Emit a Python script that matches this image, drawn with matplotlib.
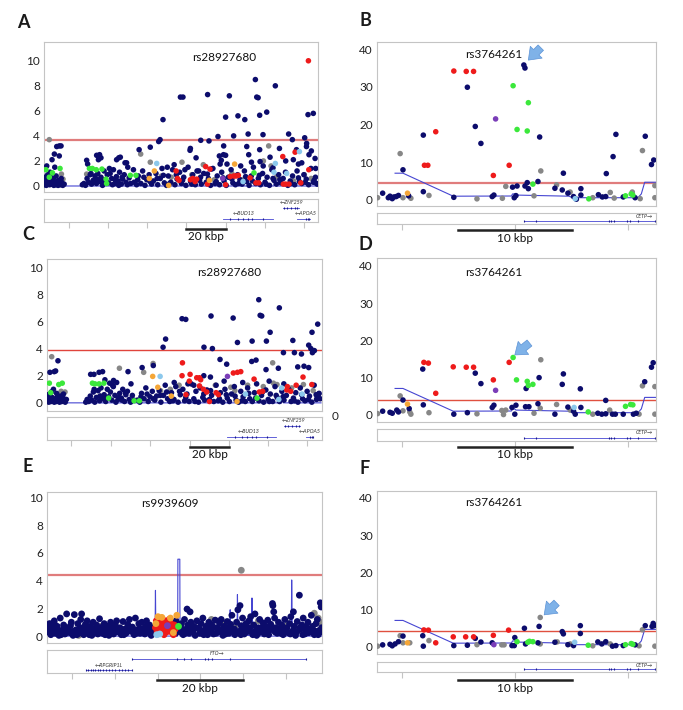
import matplotlib
matplotlib.use("Agg")
import matplotlib.pyplot as plt
from matplotlib import transforms

plt.rcParams['font.family'] = ['Lato', 'DejaVu Sans']

# colours (LD classes)
NAVY = '#0c0c6c'
GRAY = '#878787'
RED = '#ee1b1b'
GREEN = '#3be83b'
ORANGE = '#f5a637'
LBLUE = '#8cc8ec'
PURPLE = '#7a3db8'
RECOMB = '#4646d2'
FRAME = '#c4c4c4'

W, H = 683, 710

# ---------------- panel A (rs28927680, 140 kb window) ----------------
a_navy = [(108.0, 8.5), (118.2, 8.0), (69.7, 7.1), (71.0, 7.1), (83.6, 7.3), (94.7, 7.2), (108.7, 7.1),
          (109.4, 7.05), (60.8, 5.3), (92.8, 5.5), (99.1, 5.6), (102.6, 5.3), (110.2, 5.65), (113.8, 5.9),
          (134.9, 5.7), (137.6, 5.8), (88.9, 3.95), (96.9, 4.0), (104.3, 4.15), (111.9, 4.1), (125.0, 4.15),
          (133.2, 3.85), (58.6, 3.55), (59.3, 3.7), (80.1, 3.65), (84.3, 3.6), (126.9, 3.7), (134.2, 3.4),
          (134.1, 3.15), (6.5, 3.15), (7.8, 3.2), (8.7, 3.2), (5.3, 2.55), (4.1, 2.1), (7.8, 2.4), (1.4, 1.6),
          (21.8, 2.05), (22.3, 1.75), (26.9, 2.45), (28.4, 2.5), (27.8, 2.1), (29.1, 2.25), (37.1, 2.1),
          (38.2, 2.25), (39.0, 2.3), (41.4, 1.85), (42.2, 1.85), (48.6, 2.9), (54.3, 3.1), (45.7, 1.3),
          (74.6, 2.85), (74.8, 3.0), (77.7, 2.25), (89.6, 2.4), (90.6, 2.05), (91.8, 3.2), (91.7, 2.5),
          (92.8, 2.45), (93.5, 1.75), (90.0, 1.75), (103.6, 3.15), (104.6, 2.5), (110.4, 1.95), (110.2, 2.9),
          (120.3, 3.0), (127.4, 2.1), (130.0, 1.75), (131.7, 1.85), (136.6, 2.8), (135.4, 2.5), (138.5, 2.2),
          (138.8, 1.4), (139.3, 0.2), (85.5, 1.35), (63.0, 1.5), (66.5, 1.7), (72.0, 1.3), (79.0, 1.2),
          (100.5, 1.6), (106.0, 1.9), (115.5, 2.3), (123.5, 2.0), (129.0, 2.9), (112.0, 1.6), (117.0, 1.45)]
a_low = [(0.2, 0.1), (0.7, 0.3), (1.2, 0.05), (1.8, 0.4), (2.3, 0.2), (2.9, 0.1), (3.4, 0.5), (3.9, 0.15),
         (4.5, 0.3), (5.0, 0.05), (5.6, 0.25), (6.1, 0.1), (6.7, 0.35), (7.2, 0.05), (7.8, 0.2), (8.4, 0.1),
         (9.0, 0.3), (9.6, 0.05), (10.3, 0.15), (0.5, 0.7), (1.9, 0.9), (3.1, 1.1), (4.8, 0.6), (6.2, 0.8),
         (7.4, 0.45), (8.8, 0.6), (5.5, 1.5), (3.6, 1.0),
         (19.6, 0.1), (20.4, 0.2), (21.2, 0.05), (22.0, 0.6), (22.8, 0.3), (23.6, 0.9), (24.3, 0.15),
         (25.1, 0.45), (26.0, 0.8), (26.8, 0.2), (27.5, 1.0), (28.3, 0.35), (29.1, 0.7), (29.9, 0.05),
         (30.7, 1.2), (31.4, 0.5), (32.3, 0.9), (33.0, 0.25), (33.8, 1.0), (34.6, 0.6), (35.5, 1.3),
         (36.2, 0.2), (37.0, 0.75), (37.9, 0.4), (38.6, 1.1), (39.5, 0.15), (40.2, 0.55), (41.0, 0.9),
         (41.9, 0.3), (42.6, 0.1), (43.5, 0.65), (44.3, 0.2), (24.0, 1.0), (27.0, 0.55), (30.2, 0.35),
         (33.4, 1.4), (36.6, 0.45), (39.9, 0.7), (42.8, 1.5), (35.0, 0.1), (38.2, 0.05),
         (46.1, 0.3), (47.3, 0.1), (48.2, 0.8), (49.5, 0.2), (50.4, 1.2), (51.6, 0.05), (52.5, 0.5),
         (53.7, 0.9), (55.0, 0.15), (55.9, 0.4), (57.2, 1.0), (58.1, 0.1), (59.4, 0.6), (60.3, 1.4),
         (61.5, 0.25), (62.6, 0.05), (63.5, 0.8), (64.8, 0.3), (65.7, 1.3), (66.9, 0.1), (68.0, 0.55),
         (69.3, 1.1), (70.2, 0.2), (71.4, 0.7), (72.5, 0.05), (73.6, 1.5), (74.9, 0.35), (76.0, 0.9),
         (77.3, 0.1), (78.2, 1.2), (79.5, 0.45), (80.4, 0.15), (81.6, 1.0), (82.9, 0.3), (84.0, 0.6),
         (85.1, 0.05), (86.3, 1.4), (87.4, 0.2), (88.5, 0.8), (89.7, 0.1), (90.8, 1.1), (92.0, 0.4),
         (93.1, 0.05), (94.2, 0.7), (95.6, 1.3), (96.5, 0.25), (97.8, 0.1), (98.9, 0.9), (100.1, 0.5),
         (101.2, 0.15), (102.4, 1.2), (103.5, 0.35), (104.8, 0.05), (105.9, 0.8), (107.0, 1.5),
         (108.2, 0.2), (109.5, 0.6), (110.6, 0.1), (111.7, 1.0), (112.9, 0.3), (114.0, 0.7), (115.2, 0.05),
         (116.4, 1.3), (117.5, 0.45), (118.7, 0.15), (119.9, 0.9), (121.0, 0.25), (122.2, 0.6),
         (123.4, 1.1), (124.6, 0.05), (125.8, 0.4), (127.0, 0.8), (128.1, 0.1), (129.3, 1.2), (130.5, 0.35),
         (131.7, 0.2), (132.8, 0.9), (134.0, 0.55), (135.2, 0.1), (136.4, 1.4), (137.6, 0.3), (138.7, 0.7),
         (139.6, 0.15), (47.9, 0.5), (51.0, 0.7), (54.2, 0.35), (57.8, 0.6), (61.0, 0.85), (64.2, 0.2),
         (67.6, 0.9), (70.8, 0.45), (75.5, 0.15), (80.0, 0.7), (83.5, 0.95), (88.0, 0.35), (91.5, 0.65),
         (96.0, 0.55), (99.5, 0.2), (103.0, 0.75), (106.5, 0.4), (110.0, 0.85), (113.5, 0.15), (117.0, 0.6),
         (120.5, 0.5), (126.3, 0.2), (130.0, 0.65), (133.5, 0.3), (138.0, 0.45)]
a_gray = [(2.7, 3.7), (8.9, 0.95), (9.7, 0.55), (21.8, 0.95), (49.4, 2.55), (54.3, 1.9), (70.5, 1.9),
          (81.4, 1.7), (112.1, 2.0), (114.8, 3.2), (116.0, 1.6), (30.5, 0.5), (60.0, 0.8), (75.5, 0.9),
          (96.0, 1.0), (101.0, 0.5), (119.0, 0.75), (127.5, 0.4), (133.0, 0.9), (136.5, 0.6), (65.0, 0.7),
          (87.0, 0.5)]
a_red = [(135.1, 10.0), (67.5, 1.2), (69.0, 0.45), (82.6, 1.55), (84.8, 1.35), (74.8, 0.5), (77.2, 0.35),
         (78.0, 0.55), (83.5, 0.15), (95.1, 0.75), (97.0, 0.8), (98.1, 0.8), (99.3, 0.85), (92.8, 0.1),
         (105.3, 0.65), (108.3, 0.25), (109.7, 0.25), (122.0, 2.35), (122.3, 0.15), (123.5, 0.15),
         (125.2, 0.15), (128.3, 2.7), (135.3, 1.3), (131.2, 0.25), (68.2, 0.6), (76.0, 0.6)]
a_green = [(8.2, 1.4), (1.0, 1.3), (2.7, 0.7), (4.3, 1.05), (23.2, 1.4), (24.7, 1.4), (26.7, 1.3),
           (29.6, 1.35), (31.7, 0.55), (32.0, 0.2), (44.1, 0.85), (47.0, 0.85), (107.3, 1.05)]
a_orange = [(56.4, 1.2), (53.8, 0.6), (63.7, 0.05), (97.4, 1.75), (84.5, 0.45)]
a_lblue = [(57.6, 1.8), (101.7, 0.35), (118.2, 1.8), (124.0, 1.0), (130.5, 2.75), (117.5, 1.1)]
a_purple = [(91.3, 0.6)]
a_recomb = [(0, 0), (117.5, 0), (118.2, 0.9), (118.6, 0), (140, 0)]

# ---------------- panel C (rs28927680, second analysis) ----------------
c_navy = [(108.2, 7.6), (118.7, 7.0), (108.9, 6.45), (109.7, 6.4), (69.0, 6.2), (70.9, 6.15), (83.8, 6.4),
          (95.1, 6.25), (114.0, 5.2), (138.3, 5.8), (135.4, 5.2), (60.6, 4.7), (59.3, 4.1), (97.3, 4.45),
          (104.8, 4.55), (112.1, 4.55), (125.6, 4.6), (80.2, 4.1), (84.5, 4.0), (120.8, 3.7), (126.4, 3.7),
          (130.0, 3.6), (133.7, 4.25), (134.8, 4.0), (135.6, 3.7), (136.6, 3.85), (5.6, 3.1), (3.7, 2.3),
          (4.4, 2.35), (1.5, 2.25), (22.3, 2.1), (24.0, 2.1), (26.6, 2.25), (28.4, 2.3), (29.6, 1.7),
          (41.4, 2.3), (48.6, 2.6), (54.3, 2.75), (80.1, 2.0), (83.5, 1.9), (88.4, 3.2), (91.8, 2.85),
          (90.5, 1.6), (104.6, 3.05), (106.8, 3.15), (111.9, 2.45), (118.2, 2.55), (128.1, 2.65),
          (131.3, 2.7), (133.7, 2.6), (65.0, 1.5), (72.0, 1.4), (75.0, 1.3), (100.0, 1.5), (113.5, 1.6),
          (121.0, 1.4), (137.5, 0.6), (139.6, 0.3), (139.0, 0.7)]
c_low = [(0.3, 0.2), (0.9, 0.05), (1.4, 0.35), (2.0, 0.1), (2.6, 0.4), (3.1, 0.15), (3.7, 0.05), (4.2, 0.3),
         (4.8, 0.1), (5.3, 0.45), (5.9, 0.2), (6.4, 0.05), (7.0, 0.3), (7.5, 0.1), (8.1, 0.4), (8.7, 0.15),
         (9.3, 0.05), (9.9, 0.25), (0.6, 0.6), (2.2, 0.8), (3.3, 1.0), (4.9, 0.7), (6.6, 0.5), (8.4, 0.65),
         (19.8, 0.05), (20.5, 0.25), (21.3, 0.1), (22.1, 0.5), (22.9, 0.2), (23.7, 0.8), (24.4, 0.05),
         (25.2, 0.4), (26.1, 0.9), (26.9, 0.15), (27.6, 1.1), (28.4, 0.3), (29.2, 0.6), (30.0, 0.1),
         (30.8, 1.0), (31.5, 0.45), (32.4, 0.8), (33.1, 0.2), (33.9, 1.2), (34.7, 0.55), (35.6, 1.5),
         (36.3, 0.25), (37.1, 0.7), (38.0, 0.35), (38.7, 1.0), (39.6, 0.1), (40.3, 0.6), (41.1, 0.85),
         (42.0, 0.25), (42.7, 0.05), (43.6, 0.55), (44.4, 0.2), (24.1, 1.0), (27.2, 0.5), (30.3, 0.3),
         (33.5, 1.3), (36.7, 0.4), (40.0, 0.75), (42.9, 1.4), (35.2, 0.05), (38.3, 0.2), (32.0, 1.45),
         (34.0, 1.65),
         (46.2, 0.2), (47.4, 0.05), (48.3, 0.7), (49.6, 0.3), (50.5, 1.1), (51.7, 0.1), (52.6, 0.45),
         (53.8, 0.85), (55.1, 0.2), (56.0, 0.5), (57.3, 0.9), (58.2, 0.05), (59.5, 0.55), (60.4, 1.3),
         (61.6, 0.3), (62.7, 0.1), (63.6, 0.75), (64.9, 0.25), (65.8, 1.2), (67.0, 0.05), (68.1, 0.6),
         (69.4, 1.0), (70.3, 0.15), (71.5, 0.65), (72.6, 0.1), (73.7, 1.4), (75.0, 0.3), (76.1, 0.85),
         (77.4, 0.05), (78.3, 1.1), (79.6, 0.4), (80.5, 0.2), (81.7, 0.95), (83.0, 0.25), (84.1, 0.55),
         (85.2, 0.1), (86.4, 1.3), (87.5, 0.15), (88.6, 0.75), (89.8, 0.05), (90.9, 1.0), (92.1, 0.35),
         (93.2, 0.1), (94.3, 0.65), (95.7, 1.2), (96.6, 0.2), (97.9, 0.05), (99.0, 0.85), (100.2, 0.45),
         (101.3, 0.1), (102.5, 1.1), (103.6, 0.3), (104.9, 0.1), (106.0, 0.75), (107.1, 1.4), (108.3, 0.15),
         (109.6, 0.55), (110.7, 0.05), (111.8, 0.95), (113.0, 0.25), (114.1, 0.65), (115.3, 0.1),
         (116.5, 1.2), (117.6, 0.4), (118.8, 0.1), (120.0, 0.85), (121.1, 0.2), (122.3, 0.55), (123.5, 1.0),
         (124.7, 0.1), (125.9, 0.35), (127.1, 0.75), (128.2, 0.05), (129.4, 1.1), (130.6, 0.3),
         (131.8, 0.15), (132.9, 0.85), (134.1, 0.5), (135.3, 0.05), (136.5, 1.3), (137.7, 0.25),
         (138.8, 0.65), (48.0, 0.45), (51.1, 0.65), (54.3, 0.3), (57.9, 0.55), (61.1, 0.8), (64.3, 0.15),
         (67.7, 0.85), (70.9, 0.4), (75.6, 0.1), (80.1, 0.65), (83.6, 0.9), (88.1, 0.3), (91.6, 0.6),
         (96.1, 0.5), (99.6, 0.15), (103.1, 0.7), (106.6, 0.35), (110.1, 0.8), (113.6, 0.1), (117.1, 0.55),
         (120.6, 0.45), (126.4, 0.15), (130.1, 0.6), (133.6, 0.25), (138.1, 0.4)]
c_gray = [(2.4, 3.4), (7.2, 0.85), (9.2, 0.8), (37.0, 2.55), (49.4, 2.25), (54.2, 2.9), (93.9, 1.15),
          (115.3, 2.95), (115.7, 1.45), (117.5, 1.35), (125.0, 1.1), (27.0, 0.5), (58.0, 0.9), (63.0, 1.0),
          (67.5, 1.3), (86.0, 1.3), (96.0, 0.9), (102.5, 1.3), (110.5, 1.2), (131.0, 1.35), (136.0, 0.9)]
c_red = [(69.2, 2.95), (69.0, 2.0), (73.1, 2.1), (76.5, 1.85), (77.9, 1.85), (78.5, 1.7), (72.7, 1.6),
         (77.9, 1.25), (79.9, 1.0), (81.6, 0.8), (86.4, 0.75), (87.6, 0.6), (83.0, 0.1), (95.2, 2.2),
         (97.3, 2.25), (99.0, 2.3), (105.8, 1.75), (110.2, 0.85), (108.5, 0.8), (122.5, 0.95), (124.5, 0.85),
         (122.8, 1.2), (127.3, 1.3), (130.8, 1.9), (135.3, 1.35), (71.0, 0.6)]
c_green = [(1.2, 1.45), (7.8, 1.45), (6.0, 1.35), (1.9, 0.75), (23.2, 1.45), (24.5, 1.4), (26.6, 1.4),
           (29.1, 1.45), (31.5, 0.35), (44.5, 0.15), (47.2, 0.15), (107.3, 0.35)]
c_orange = [(54.0, 1.95), (56.6, 1.15), (63.5, 0.5), (97.1, 0.1)]
c_lblue = [(57.8, 1.95), (101.4, 0.65), (119.9, 1.1), (118.4, 0.25), (130.3, 0.65)]
c_purple = [(92.2, 1.95)]
c_recomb = [(0, 0), (119.8, 0), (120.4, 1.1), (120.8, 0), (140, 0)]

# ---------------- panel E (rs9939609, FTO) ----------------
e_navy = [(0.2, 0.3), (0.6, 0.9), (0.9, 0.1), (1.3, 0.5), (1.7, 1.1), (2.0, 0.2), (2.4, 0.7), (2.8, 0.05),
          (3.1, 1.3), (3.5, 0.4), (3.9, 0.8), (4.2, 0.15), (4.6, 1.6), (5.0, 0.6), (5.3, 0.25), (5.7, 1.0),
          (6.1, 0.05), (6.4, 1.55), (6.8, 0.45), (7.2, 0.9), (7.5, 0.2), (7.9, 1.2), (8.1, 1.6), (8.3, 0.6),
          (8.6, 0.1), (9.0, 0.85), (9.4, 1.1), (9.7, 0.3), (10.1, 0.7), (10.5, 0.05), (10.8, 1.0), (11.2, 0.4),
          (11.6, 0.8), (11.9, 0.15), (12.3, 1.25), (12.7, 0.55), (13.0, 0.2), (13.4, 0.9), (13.8, 0.35),
          (14.1, 0.7), (14.5, 0.05), (14.9, 1.0), (15.2, 0.45), (15.6, 0.15), (16.0, 0.8), (16.3, 1.1),
          (16.7, 0.3), (17.1, 0.6), (17.4, 0.1), (17.8, 1.05), (18.2, 0.5), (18.5, 0.2), (18.9, 0.85),
          (19.3, 1.2), (19.6, 0.35), (20.0, 0.65), (20.4, 0.1), (20.7, 1.3), (21.1, 0.45), (21.5, 0.9),
          (21.8, 0.2), (22.2, 1.0), (22.6, 0.55), (22.9, 0.15), (23.3, 1.1), (23.7, 0.4), (24.0, 0.8),
          (24.4, 0.05), (24.8, 0.6),
          (0.4, 0.6), (1.1, 0.3), (1.9, 0.8), (2.6, 0.45), (3.3, 0.1), (4.0, 0.55), (4.8, 0.3), (5.5, 0.75),
          (6.2, 0.35), (7.0, 0.1), (7.7, 0.55), (8.4, 0.35), (9.2, 0.5), (9.9, 0.1), (10.6, 0.4), (11.4, 0.6),
          (12.1, 0.3), (12.9, 0.65), (13.6, 0.1), (14.3, 0.4), (15.1, 0.75), (15.8, 0.3), (16.5, 0.55),
          (17.3, 0.35), (18.0, 0.1), (18.7, 0.45), (19.5, 0.6), (20.2, 0.3), (21.0, 0.2), (21.7, 0.55),
          (22.4, 0.3), (23.1, 0.7), (23.9, 0.25), (24.6, 0.35),
          (30.2, 1.1), (30.6, 0.4), (30.1, 0.2),
          (31.2, 0.3), (31.5, 0.9), (31.9, 0.1), (32.2, 1.2), (32.6, 0.5), (32.8, 1.95), (33.0, 0.8),
          (33.3, 0.2), (33.5, 1.75), (33.7, 1.0), (34.0, 0.4), (34.4, 0.7), (34.7, 0.05), (35.1, 1.1),
          (35.4, 0.55), (35.8, 0.2), (36.1, 0.9), (36.5, 1.3), (36.8, 0.35), (37.2, 0.7), (37.6, 0.1),
          (37.9, 1.0), (38.3, 0.45), (38.6, 0.8), (39.0, 0.15), (39.4, 1.15), (39.7, 0.6), (40.1, 0.3),
          (40.4, 0.95), (40.8, 1.2), (41.2, 0.05), (41.5, 0.7), (41.9, 0.4), (42.2, 1.05), (42.6, 0.2),
          (43.0, 0.85), (43.3, 1.5), (43.7, 0.5), (44.0, 0.1), (44.4, 1.0), (44.7, 1.9), (45.1, 0.35),
          (45.2, 2.2), (45.5, 0.75), (45.8, 1.3), (46.2, 0.15), (46.6, 0.9), (46.9, 0.5), (47.3, 1.1),
          (47.7, 1.4), (48.0, 0.25), (48.4, 0.8), (48.7, 1.6), (49.1, 0.05), (49.5, 0.6), (49.8, 1.2),
          (50.2, 0.35), (50.6, 0.95), (50.9, 0.15), (51.3, 0.7), (51.7, 1.15), (52.0, 0.4), (52.4, 0.85),
          (52.8, 2.35), (52.9, 2.2), (53.1, 1.75), (53.3, 1.3), (53.5, 0.6), (53.9, 0.2), (54.2, 1.0),
          (54.6, 0.45), (55.0, 0.8), (55.3, 0.1), (55.7, 1.2), (56.0, 0.55), (56.4, 0.25), (56.8, 0.9),
          (57.1, 1.4), (57.5, 0.35), (57.7, 1.75), (57.9, 0.7), (58.2, 0.05), (58.6, 1.05), (59.1, 2.95),
          (59.3, 0.5), (59.7, 0.8), (60.0, 1.3), (60.4, 0.15), (60.8, 0.65), (61.1, 1.0), (61.5, 0.3),
          (61.9, 1.5), (62.2, 0.7), (62.6, 0.1), (63.0, 0.9), (63.3, 1.2), (63.7, 0.4), (64.0, 2.4),
          (64.2, 2.1), (64.3, 0.6),
          (31.7, 0.5), (32.4, 0.2), (33.2, 0.55), (34.2, 0.3), (35.0, 0.6), (35.9, 0.45), (36.7, 0.1),
          (37.4, 0.5), (38.1, 0.3), (38.9, 0.6), (39.6, 0.2), (40.3, 0.5), (41.0, 0.35), (41.8, 0.15),
          (42.5, 0.6), (43.2, 0.3), (43.9, 0.5), (44.6, 0.25), (45.4, 0.1), (46.1, 0.55), (46.8, 0.3),
          (47.5, 0.6), (48.2, 0.1), (49.0, 0.45), (49.7, 0.25), (50.4, 0.6), (51.1, 0.4), (51.9, 0.1),
          (52.6, 0.5), (53.4, 0.3), (54.1, 0.55), (54.8, 0.2), (55.5, 0.45), (56.2, 0.6), (57.0, 0.15),
          (57.8, 0.4), (58.5, 0.3), (59.2, 0.6), (59.9, 0.1), (60.6, 0.45), (61.3, 0.25), (62.0, 0.55),
          (62.8, 0.35), (63.5, 0.1), (64.1, 0.3)]
e_gray = [(45.5, 4.75), (62.6, 1.65), (1.0, 0.8), (7.4, 0.05), (12.6, 0.7), (19.2, 0.4), (38.5, 1.2),
          (41.0, 0.9), (44.0, 0.6), (49.5, 1.1), (53.0, 0.5), (56.5, 0.9), (60.0, 0.2), (63.5, 1.3), (64.0, 1.0)]
e_red = [(25.4, 0.6), (25.6, 1.1), (25.8, 0.3), (26.0, 0.9), (26.1, 1.3), (26.3, 0.5), (26.5, 0.8),
         (26.6, 1.0), (26.8, 0.2), (27.0, 1.2), (27.1, 0.6), (27.3, 0.9), (27.5, 0.4), (27.6, 1.1),
         (27.8, 0.7), (28.0, 0.3), (28.1, 1.0), (28.3, 0.8), (28.5, 0.5), (28.6, 1.2), (28.8, 0.6),
         (29.0, 0.9), (29.1, 0.3), (29.3, 0.7), (29.5, 0.45), (29.6, 0.1), (29.8, 0.8), (30.0, 0.5),
         (25.9, 0.15), (27.4, 0.1)]
e_green = [(30.8, 0.7)]
e_orange = [(26.0, 1.4), (26.9, 1.35), (30.4, 1.5), (29.6, 0.25), (25.5, 0.9), (28.9, 1.3)]
e_lblue = [(25.7, 0.1), (26.4, 0.15)]
e_purple = [(28.2, 0.75)]
e_recomb = [(0, 0), (25.3, 0), (25.4, 3.3), (25.5, 0), (30.6, 0), (30.65, 5.55), (31.1, 5.55), (31.15, 0),
            (38.6, 0), (38.7, 1.1), (38.8, 0), (42.8, 0), (42.9, 1.9), (43.0, 0), (44.5, 0), (44.6, 3.0),
            (44.7, 0.2), (47.9, 0), (48.0, 2.75), (48.1, 0), (57.2, 0), (57.3, 4.05), (57.45, 0), (64.4, 0)]

# ---------------- panels B, D, F (rs3764261, CETP) ----------------
b_navy = [(13.0, 35.8), (13.1, 35.0), (8.0, 29.9), (4.1, 17.2), (8.7, 19.5), (14.4, 16.7), (9.2, 15.0),
          (21.15, 17.4), (23.75, 16.9), (20.9, 11.5), (24.5, 10.6), (24.3, 9.4), (2.3, 8.0), (16.5, 7.1),
          (20.3, 7.0), (14.25, 4.9), (13.3, 4.6), (12.4, 3.7), (12.0, 3.4), (13.1, 3.7), (13.4, 3.0),
          (4.1, 2.2), (0.5, 1.8), (1.15, 1.0), (1.35, 0.35), (1.7, 0.9), (1.9, 1.2), (2.8, 1.1), (6.8, 0.7),
          (10.2, 0.9), (10.35, 1.3), (12.15, 0.6), (12.3, 1.15), (15.75, 3.1), (16.4, 2.65), (16.9, 1.8),
          (17.4, 0.9), (17.65, 0.2), (18.05, 3.0), (18.05, 1.3), (19.6, 1.4), (19.95, 0.8), (20.25, 0.9),
          (21.8, 0.8), (22.85, 0.6), (1.0, 0.6), (1.5, 0.8)]
b_gray = [(23.5, 13.1), (2.05, 12.3), (14.5, 7.7), (11.4, 3.6), (15.9, 4.0), (4.6, 1.2), (2.3, 0.6),
          (3.0, 0.45), (0.05, 0.6), (8.85, 0.3), (11.1, 0.45), (13.9, 1.1), (17.1, 2.1), (19.1, 0.6),
          (20.65, 2.0), (21.0, 0.5), (22.6, 2.1), (23.3, 0.35), (24.6, 3.8), (24.6, 0.6)]
b_red = [(6.8, 34.2), (7.9, 34.1), (8.55, 34.1), (5.2, 18.1), (4.2, 9.2), (4.5, 9.2), (11.7, 9.2), (10.3, 6.5)]
b_green = [(12.05, 30.3), (13.4, 25.8), (12.4, 18.7), (13.3, 18.3), (13.8, 4.2), (18.75, 0.3), (22.0, 1.1),
           (22.5, 1.6), (22.65, 1.3)]
b_orange = [(2.7, 1.8)]
b_lblue = [(17.55, 0.35)]
b_purple = [(10.5, 21.5)]

d_navy = [(4.05, 12.3), (8.7, 11.2), (14.35, 10.0), (16.5, 11.0), (9.2, 8.4), (16.4, 8.2), (18.0, 7.0),
          (13.2, 7.1), (24.45, 14.0), (24.3, 12.8), (23.7, 8.9), (2.3, 4.0), (4.1, 2.7), (2.85, 1.7),
          (0.5, 1.0), (1.15, 0.7), (1.35, 0.45), (1.75, 1.3), (1.9, 0.8), (6.8, 0.2), (8.0, 0.6), (10.2, 2.0),
          (10.35, 2.6), (11.95, 2.0), (12.3, 2.6), (12.2, 0.2), (13.15, 2.2), (13.45, 2.2), (14.25, 3.0),
          (15.75, 0.2), (16.9, 2.1), (17.4, 1.0), (17.55, 0.2), (18.05, 2.0), (19.55, 0.45), (19.9, 0.2),
          (20.25, 0.3), (20.25, 3.9), (20.85, 0.2), (21.1, 0.2), (21.8, 0.2), (22.7, 0.2), (22.95, 0.45)]
d_gray = [(14.5, 14.8), (23.5, 7.8), (24.6, 7.6), (2.05, 5.1), (4.6, 0.6), (2.9, 0.8), (2.3, 1.1),
          (0.05, 0.35), (3.0, 0.2), (8.85, 0.3), (11.05, 1.2), (11.2, 0.1), (11.4, 1.3), (13.9, 0.45),
          (14.45, 1.8), (15.9, 2.8), (17.1, 1.3), (19.1, 0.2), (20.6, 1.3), (23.2, 0.2), (24.6, 0.2)]
d_red = [(11.7, 14.1), (4.15, 14.1), (4.55, 13.9), (6.75, 12.9), (7.9, 12.8), (8.55, 12.8), (10.3, 9.4), (5.2, 5.8)]
d_green = [(12.05, 15.4), (12.35, 9.4), (13.3, 9.0), (13.4, 7.9), (13.8, 8.2), (18.7, 0.8), (22.0, 2.3),
           (22.45, 2.8), (22.65, 2.7)]
d_orange = [(2.7, 2.9)]
d_lblue = [(17.45, 2.0)]
d_purple = [(10.5, 6.6)]

f_navy = [(14.35, 5.5), (13.05, 5.0), (18.0, 5.7), (18.0, 3.6), (16.4, 4.1), (16.5, 3.5), (4.05, 3.0),
          (8.7, 2.3), (12.2, 2.5), (2.3, 2.9), (0.5, 0.55), (1.15, 0.7), (1.35, 0.3), (1.6, 0.8), (1.9, 1.4),
          (4.1, 0.2), (6.8, 0.35), (8.0, 0.45), (9.2, 1.3), (10.2, 1.1), (11.95, 0.35), (12.15, 0.35),
          (13.15, 0.8), (14.25, 1.1), (15.75, 1.25), (16.9, 0.6), (17.4, 0.35), (19.55, 1.35), (19.9, 0.8),
          (20.25, 1.4), (20.85, 0.2), (21.15, 0.35), (21.8, 0.35), (22.85, 0.55), (23.75, 5.7), (24.35, 5.5),
          (24.45, 6.3), (24.55, 5.7)]
f_gray = [(14.45, 7.9), (4.6, 1.7), (2.05, 3.0), (2.3, 1.1), (2.9, 1.1), (0.05, 0.2), (8.85, 0.6),
          (11.05, 0.55), (11.25, 0.55), (14.45, 0.8), (15.95, 1.35), (17.1, 0.8), (19.1, 0.3), (20.65, 0.8),
          (23.2, 0.3), (23.5, 4.6), (24.6, 0.2)]
f_red = [(4.15, 4.55), (4.55, 4.5), (11.65, 4.5), (6.75, 2.7), (7.85, 2.7), (8.55, 2.7), (10.3, 3.1), (5.2, 1.1)]
f_green = [(12.4, 1.4), (13.35, 1.25), (13.5, 1.5), (13.8, 1.4), (18.7, 0.45), (22.0, 0.6), (22.5, 0.9),
           (22.65, 0.7)]
f_orange = [(2.7, 1.1)]
f_lblue = [(17.5, 1.25)]
f_purple = [(10.35, 0.6)]

cetp_recomb = [(1.6, 7.1), (2.3, 7.1), (6.75, 1.0), (11.9, 1.05), (12.0, 1.6), (12.2, 1.6), (12.3, 1.3),
               (17.0, 1.0), (17.3, 0.6), (23.1, 0.6), (23.4, 1.6), (23.7, 4.7), (24.7, 4.7)]

# genes: (label, start, end, row y, label x, label y, exons)
apoa_genes = [("\u2190BUD13", 91.7, 116.9, 0.15, 102.0, 0.36, [95.0, 99.0, 101.5, 104.0, 106.5, 112.0]),
              ("\u2190ZNF259", 122.0, 130.2, 0.63, 126.5, 0.86, [122.5, 124.0, 126.0, 128.0, 129.5]),
              ("\u2190APOA5", 129.5, 136.0, 0.15, 133.5, 0.36, [134.0, 134.8, 135.5])]
apoa_genes_c = [("\u2190BUD13", 91.8, 117.0, 0.15, 103.0, 0.36, [96.0, 99.5, 102.0, 104.5, 107.0, 112.5]),
                ("\u2190ZNF259", 121.1, 129.3, 0.63, 126.0, 0.86, [121.5, 123.0, 125.0, 127.0, 128.8]),
                ("\u2190APOA5", 132.4, 136.1, 0.15, 134.0, 0.36, [134.5, 135.2, 135.8])]
fto_genes = [("FTO\u2192", 19.8, 60.7, 0.63, 39.8, 0.84, [19.8, 30.4, 32.1, 33.8, 37.0, 37.8, 38.6, 42.8, 60.7]),
             ("\u2190RPGRIP1L", 9.1, 19.8, 0.12, 14.4, 0.32,
              [9.1, 9.6, 10.2, 10.8, 11.3, 11.9, 12.5, 13.2, 13.8, 14.5, 15.2, 16.0, 16.8, 17.5, 18.3, 19.0, 19.8])]
cetp_genes = [("CETP\u2192", 13.05, 24.7, 0.28, 23.7, 0.68,
               [13.05, 14.1, 20.55, 20.7, 21.0, 22.1, 22.4, 23.1, 24.6])]

fig = plt.figure(figsize=(W / 100, H / 100), dpi=100)


def px_axes(x0, y0, x1, y1):
    return fig.add_axes([x0 / W, 1 - y1 / H, (x1 - x0) / W, (y1 - y0) / H])


def panel(box, gbox, xlim, ylim, yticks, layers, recomb, thresh, tcol, tlw, title, tpos,
          xticks, bar, bar_y, bar_text, text_y, genes, letter, letter_xy, dot=16):
    ax = px_axes(*box)
    ax.set_xlim(*xlim)
    ax.set_ylim(*ylim)
    ax.set_xticks([])
    ax.set_yticks(yticks)
    ax.tick_params(axis='y', length=0, labelsize=8.5, labelcolor='#222222', pad=3)
    for s in ax.spines.values():
        s.set_color(FRAME)
        s.set_linewidth(0.8)
    rx, ry = zip(*recomb)
    ax.plot(rx, ry, color=RECOMB, lw=0.8, zorder=2)
    ax.axhline(thresh, color=tcol, lw=tlw, zorder=1)
    for pts, col in layers:
        if not pts:
            continue
        x, y = zip(*pts)
        ax.scatter(x, y, s=dot, c=col, edgecolors='none', zorder=3)
    ax.text(tpos[0], tpos[1], title, fontsize=8.5, ha='center', va='center', color='#111111')

    g = px_axes(*gbox)
    g.set_xlim(*xlim)
    g.set_ylim(0, 1)
    g.set_yticks([])
    g.set_xticks(xticks)
    g.tick_params(axis='x', direction='out', length=4, color=FRAME, labelbottom=False)
    for s in g.spines.values():
        s.set_color(FRAME)
        s.set_linewidth(0.8)
    for name, g0, g1, gy, lx, ly, exons in genes:
        g.plot([g0, g1], [gy, gy], color=RECOMB, lw=0.6)
        g.plot(exons, [gy] * len(exons), ls='none', marker='|', ms=2.0, mew=0.8, color='#1a1a8a')
        g.text(lx, ly, name, fontsize=3.8, style='italic', color='#333333', ha='center', va='center')

    tr = transforms.blended_transform_factory(g.transData, fig.transFigure)
    g.plot(bar, [1 - bar_y / H] * 2, color='#222222', lw=1.8, transform=tr, clip_on=False)
    g.text(sum(bar) / 2, 1 - text_y / H, bar_text, fontsize=8.5, ha='center', va='center',
           transform=tr, color='#111111')
    fig.text(letter_xy[0] / W, 1 - letter_xy[1] / H, letter, fontsize=13, fontweight='bold',
             ha='center', va='center', color='#1a1a1a')
    return ax


def arrow(ax, tip, tail):
    ax.annotate('', xy=tip, xytext=tail, zorder=6,
                arrowprops=dict(arrowstyle='simple,head_length=0.8,head_width=1.2,tail_width=0.55',
                                fc='#7fb2e8', ec='#5d93d6', lw=0.5, mutation_scale=10,
                                shrinkA=0, shrinkB=0))


apoa_ticks = [12.8, 32.8, 52.8, 72.8, 92.8, 112.8, 132.8]
apoa_ticks_c = [12.3, 32.5, 52.7, 72.9, 93.0, 113.0, 133.0]
fto_ticks = [5.9, 15.9, 25.9, 35.9, 45.9, 55.9]
cetp_ticks = [2.2, 12.2, 22.2]


def layers(gray, navy, red, green, orange, lblue, purple):
    return [(gray, GRAY), (navy, NAVY), (red, RED), (green, GREEN), (orange, ORANGE),
            (lblue, LBLUE), (purple, PURPLE)]


panel((44, 42, 318, 192), (44, 199, 318, 222), (0, 140), (-0.48, 11.5), [0, 2, 4, 6, 8, 10],
      layers(a_gray, a_low + a_navy, a_red, a_green, a_orange, a_lblue, a_purple), a_recomb,
      3.7, '#e07c7c', 1.6, 'rs28927680', (92, 10.3), apoa_ticks, (72.8, 92.8), 229, '20 kbp', 237,
      apoa_genes, 'A', (23, 22))

axb = panel((377, 42, 656, 206), (377, 213, 656, 224), (0, 24.7), (-1.6, 41.9), [0, 10, 20, 30, 40],
            layers(b_gray, b_navy, b_red, b_green, b_orange, b_lblue, b_purple), cetp_recomb,
            4.4, '#e07c7c', 1.6, 'rs3764261', (10.35, 38.7), cetp_ticks, (7.2, 17.25), 230, '10 kbp', 239,
            cetp_genes, 'B', (365, 20))
arrow(axb, (13.4, 37.1), (14.5, 40.4))

panel((47, 259, 322, 411), (47, 417, 322, 440), (0, 140.5), (-0.6, 10.6), [0, 2, 4, 6, 8, 10],
      layers(c_gray, c_low + c_navy, c_red, c_green, c_orange, c_lblue, c_purple), c_recomb,
      3.9, '#e0443c', 1.0, 'rs28927680', (93, 9.6), apoa_ticks_c, (73.0, 93.0), 447, '20 kbp', 454,
      apoa_genes_c, 'C', (28, 235))
fig.text(335 / W, 1 - 417 / H, '0', fontsize=8.5, ha='center', va='center', color='#222222')

axd = panel((377, 258, 656, 422), (377, 429, 656, 441), (0, 24.7), (-1.9, 42.1), [0, 10, 20, 30, 40],
            layers(d_gray, d_navy, d_red, d_green, d_orange, d_lblue, d_purple), cetp_recomb,
            4.0, '#e0503f', 1.0, 'rs3764261', (10.35, 38.3), cetp_ticks, (7.2, 17.25), 447, '10 kbp', 455,
            cetp_genes, 'D', (365, 245))
arrow(axd, (12.2, 16.1), (13.5, 19.3))

panel((47, 492, 322, 643), (47, 650, 322, 673), (0, 64.4), (-0.5, 10.4), [0, 2, 4, 6, 8, 10],
      layers(e_gray, e_navy, e_red, e_green, e_orange, e_lblue, e_purple), e_recomb,
      4.4, '#e07c7c', 1.6, 'rs9939609', (28.8, 9.6), fto_ticks, (25.8, 45.9), 680, '20 kbp', 689,
      fto_genes, 'E', (28, 467), dot=24)

axf = panel((377, 491, 656, 654), (377, 662, 656, 672), (0, 24.7), (-1.9, 41.8), [0, 10, 20, 30, 40],
            layers(f_gray, f_navy, f_red, f_green, f_orange, f_lblue, f_purple), cetp_recomb,
            4.2, '#e0503f', 1.0, 'rs3764261', (10.35, 38.6), cetp_ticks, (7.2, 17.25), 680, '10 kbp', 689,
            cetp_genes, 'F', (365, 468))
arrow(axf, (14.8, 8.6), (15.9, 11.8))

fig.savefig('out.png', dpi=100)
